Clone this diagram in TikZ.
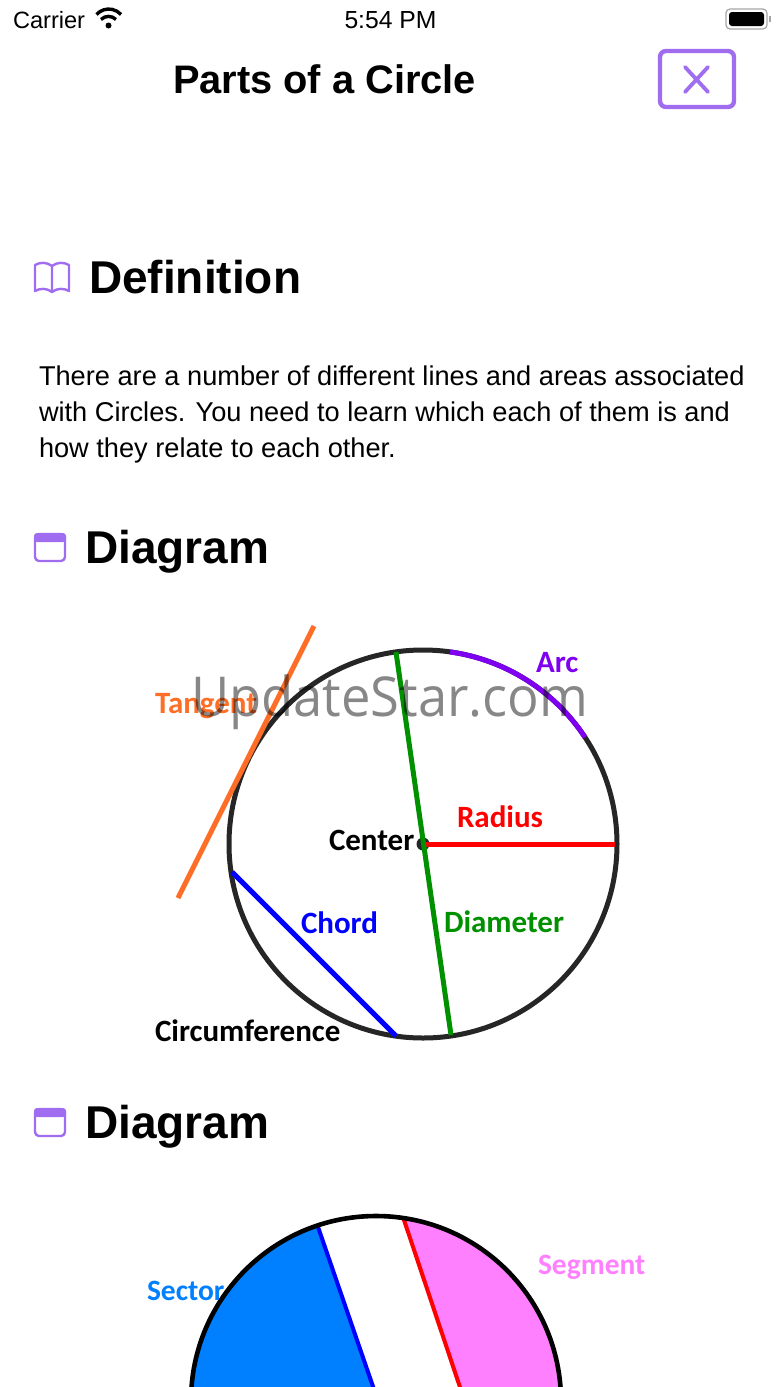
\documentclass[tikz,border=0pt]{standalone}
\usepackage{fontspec}
\usepackage{graphicx}
\setmainfont{Liberation Sans}
\newfontfamily\cali{Carlito}
\newfontfamily\wmfont{Open Sans}
\usetikzlibrary{calc}
\definecolor{uipurple}{HTML}{A06CF0}
\definecolor{ctan}{HTML}{FF6E26}
\definecolor{carc}{HTML}{7F00F0}
\definecolor{cgreen}{HTML}{009000}
\definecolor{csec}{HTML}{0080FF}
\definecolor{cseg}{HTML}{FF80FF}
\definecolor{ring}{HTML}{262626}
\newcommand{\fsz}[1]{\fontsize{#1}{#1}\selectfont}
\tikzset{
  x=1pt,y=-1pt,
  txt/.style={inner sep=0pt,outer sep=0pt,anchor=base west},
  heading/.style={txt,font=\fsz{46}\bfseries},
  bodyline/.style={txt,font=\fsz{27.2}},
  lab/.style={txt,font=\cali\fsz{31}\bfseries},
  labsmall/.style={txt,font=\cali\fsz{29.5}\bfseries},
  icon/.style={draw=uipurple,line width=2.4pt,line join=round,line cap=round},
  wide/.style={line width=5pt},
}
\begin{document}
\begin{tikzpicture}
\useasboundingbox (0,0) rectangle (780,1387);
\fill[white] (0,0) rectangle (780,1387);
% status bar
\node[txt,font=\fsz{23.6}] (carrier) at (13,28) {Carrier};
\node[txt,anchor=base,font=\fsz{24.7}] (clock) at (390.5,28.5) {5:54 PM};
\fill[black] (108.5,25.5) circle (3);
\draw[black,line width=3.4pt] (101,19.5) arc[start angle=225,end angle=315,radius=10.6];
\draw[black,line width=3.4pt] (96.5,14.5) arc[start angle=222,end angle=318,radius=16.5];
\draw[gray!70,line width=1.2pt,rounded corners=4pt] (726,9) rectangle (767,29);
\fill[black,rounded corners=3pt] (729,12) rectangle (764,26);
\fill[gray!70] (769,16) rectangle (770.5,22);
% title and close
\node[txt,font=\fsz{39.8}\bfseries] (title) at (173,93.5) {Parts of a Circle};
\draw[uipurple,line width=4.4pt,rounded corners=6pt] (660,51) rectangle (734,107);
\draw[uipurple,line width=3.8pt,line cap=round] (685,67) -- (708,92) (708,67) -- (685,92);
% definition
\draw[icon] (52,266) .. controls (47,262) and (40,262) .. (35,265) -- (35,291) .. controls (40,288) and (47,288) .. (52,292) .. controls (57,288) and (64,288) .. (69,291) -- (69,265) .. controls (64,262) and (57,262) .. (52,266) -- (52,292);
\node[heading] (defhead) at (89,293) {Definition};
\node[bodyline] (l1) at (39,385) {There are a number of different lines and areas associated};
\node[bodyline] (l2) at (39,421) {with Circles. You need to learn which each of them is and};
\node[bodyline] (l3) at (39,457) {how they relate to each other.};
% diagram heading 1
\draw[icon,rounded corners=4pt] (35,534) rectangle (65,561);
\fill[uipurple,rounded corners=3pt] (34,533) rectangle (66,542);
\node[heading] (diag1) at (85,563) {Diagram};
% circle 1
\coordinate (c) at (423,844);
\draw[ring,wide] (c) circle (194);
\draw[carc,wide] ($(c)+(27,-192.1)$) arc[start angle=-82,end angle=-33.4,radius=194];
\coordinate (tanA) at (314,626);
\coordinate (tanB) at (178,898);
\draw[ctan,wide] (tanA) -- (tanB);
\coordinate (diaA) at (396,652);
\coordinate (diaB) at (451,1035);
\coordinate (radE) at (615,844);
\fill[ring] (c) circle (6.5);
\draw[red,wide] (c) -- (radE);
\draw[cgreen,wide] (diaA) -- (diaB);
\coordinate (chA) at (232,872);
\coordinate (chB) at (396,1036);
\draw[blue,wide] (chA) -- (chB);
\node[lab,text=carc] (arc) at (536,672) {Arc};
\node[lab,text=ctan] (tan) at (155,713) {Tangent};
\node[lab,text=red] (rad) at (457,827) {Radius};
\node[lab,text=black] (cen) at (329,850) {Center};
\node[lab,text=blue] (cho) at (301,933) {Chord};
\node[lab,text=cgreen] (dia) at (444,932) {Diameter};
\node[lab,text=black] (cir) at (155,1041) {Circumference};
% watermark
\node[txt,font=\wmfont\fsz{55},text=black,opacity=0.47] (wm) at (191,716) {\scalebox{0.955}[1]{UpdateStar.com}};
% diagram heading 2
\draw[icon,rounded corners=4pt] (35,1109) rectangle (65,1136);
\fill[uipurple,rounded corners=3pt] (34,1108) rectangle (66,1117);
\node[heading] (diag2) at (85,1138) {Diagram};
% circle 2
\coordinate (d) at (376,1401);
\coordinate (secA) at (317,1224);
\coordinate (secB) at (378,1401);
\coordinate (segA) at (403,1217);
\coordinate (segB) at (470,1417);
\begin{scope}
\clip (0,0) rectangle (780,1387);
\clip (d) circle (185);
\fill[csec] (0,1100) -- (secA) -- (secB) -- (secB |- 0,1500) -- (0,1500) -- cycle;
\fill[cseg] (segA) -- (segB) -- (780,1417) -- (780,1100) -- (segA |- 0,1100) -- cycle;
\end{scope}
\begin{scope}
\clip (0,0) rectangle (780,1387);
\draw[blue,line width=4pt] (secA) -- (secB);
\draw[red,line width=4pt] (segA) -- (segB);
\draw[black,line width=4.6pt] (d) circle (185);
\end{scope}
\node[labsmall,text=cseg] (seg) at (538,1274) {Segment};
\node[labsmall,text=csec] (sec) at (147,1300) {Sector};
\end{tikzpicture}
\end{document}
